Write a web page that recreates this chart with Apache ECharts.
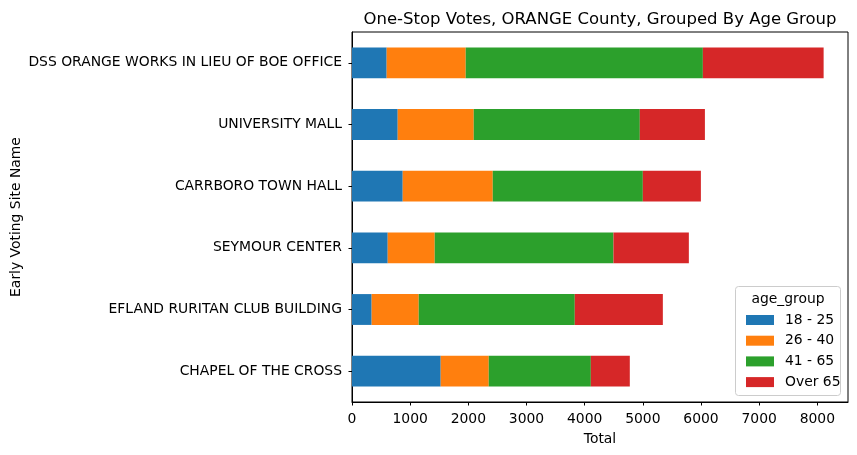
<!DOCTYPE html>
<html>
<head>
<meta charset="utf-8">
<script src="https://cdn.jsdelivr.net/npm/echarts@6/dist/echarts.min.js"></script>
<style>html,body{margin:0;padding:0;background:#fff;}#c{width:857px;height:455px;}</style>
</head>
<body>
<div id="c"></div>
<script>
const categories = [
  "DSS ORANGE WORKS IN LIEU OF BOE OFFICE",
  "UNIVERSITY MALL",
  "CARRBORO TOWN HALL",
  "SEYMOUR CENTER",
  "EFLAND RURITAN CLUB BUILDING",
  "CHAPEL OF THE CROSS"
];
const seriesNames = ["18 - 25", "26 - 40", "41 - 65", "Over 65"];
const age18_25 = [596, 786, 872, 614, 338, 1525];
const age26_40 = [1359, 1307, 1548, 808, 809, 826];
const age41_65 = [4077, 2855, 2580, 3073, 2683, 1755];
const over65   = [2076, 1119, 998, 1296, 1514, 670];
const xTicks = [0, 1000, 2000, 3000, 4000, 5000, 6000, 7000, 8000];
const colors = ["#1f77b4", "#ff7f0e", "#2ca02c", "#d62728"];
const yAxisTitle = "Early Voting Site Name";

const values = [age18_25, age26_40, age41_65, over65];
const font = "DejaVu Sans";
const chart = echarts.init(document.getElementById('c'), null, {renderer: 'canvas'});
chart.setOption({
  animation: false,
  color: colors,
  textStyle: {fontFamily: font},
  title: {
    text: "One-Stop Votes, ORANGE County, Grouped By Age Group",
    left: 595, top: 6, textAlign: 'center',
    textStyle: {fontFamily: font, fontSize: 16.5, fontWeight: 'normal', color: '#000'}
  },
  grid: {left: 352, right: 9, top: 32, bottom: 53, show: true, borderColor: '#000', borderWidth: 1,
    containLabel: false, outerBoundsMode: 'none'},
  legend: {
    orient: 'vertical', left: 741, top: 308,
    itemWidth: 28, itemHeight: 10, itemGap: 6.7, icon: 'rect',
    data: seriesNames,
    textStyle: {fontFamily: font, fontSize: 13.9, color: '#000', padding: [0, 0, 0, 6], lineHeight: 14}
  },
  graphic: [
    {type: 'rect', shape: {x: 735.5, y: 286.5, width: 105, height: 109, r: 3}, style: {fill: 'rgba(255,255,255,0.8)', stroke: '#cccccc', lineWidth: 1}, z: 0},
    {type: 'text', x: 788, y: 299, style: {text: 'age_group', font: '13.9px "DejaVu Sans"', fill: '#000', textAlign: 'center', textVerticalAlign: 'middle'}, z: 10},
    {type: 'text', x: 16, y: 217, rotation: Math.PI / 2, style: {text: yAxisTitle, font: '13.9px "DejaVu Sans"', fill: '#000', textAlign: 'center', textVerticalAlign: 'middle'}, z: 10}
  ],
  xAxis: {
    type: 'value', min: 0, max: 8527,
    name: 'Total', nameLocation: 'middle', nameGap: 30,
    nameTextStyle: {fontFamily: font, fontSize: 13.9, color: '#000'},
    splitLine: {show: false},
    axisLine: {show: true, lineStyle: {color: '#000', width: 1}},
    axisTick: {show: true, length: 3.5, lineStyle: {color: '#000'}, customValues: xTicks},
    axisLabel: {fontFamily: font, fontSize: 13.9, color: '#000', margin: 10, customValues: xTicks,
      formatter: v => String(v)}
  },
  yAxis: {
    type: 'category', data: categories, inverse: true,
    axisLine: {show: true, lineStyle: {color: '#000', width: 1}},
    axisTick: {show: true, length: 3.5, alignWithLabel: true, lineStyle: {color: '#000'}},
    axisLabel: {fontFamily: font, fontSize: 13.9, color: '#000', margin: 10}
  },
  series: seriesNames.map((n, i) => ({
    name: n, type: 'bar', stack: 'total', data: values[i],
    barCategoryGap: '50%', itemStyle: {color: colors[i]}
  }))
});
</script>
</body>
</html>
